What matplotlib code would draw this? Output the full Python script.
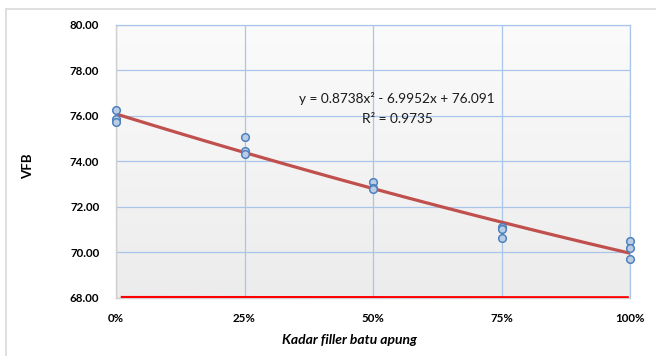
import numpy as np
import matplotlib.pyplot as plt
from matplotlib.patches import Rectangle

# data
kadar = [0, 0, 0, 0.25, 0.25, 0.25, 0.5, 0.5, 0.5, 0.75, 0.75, 0.75, 1, 1, 1]
vfb = [76.25, 75.85, 75.75, 75.09, 74.45, 74.35, 73.10, 72.85, 72.80,
       71.10, 71.02, 70.62, 70.52, 70.20, 69.70]

# trendline coefficients (from the equation on the chart)
koef = [0.8738, -6.9952, 76.091]
r2 = 0.9735

# red baseline series near the bottom
batas_x = [0.012, 0.995]
batas_y = [68.03, 68.02]

x_ticks = [0, 0.25, 0.5, 0.75, 1]
x_labels = ['0%', '25%', '50%', '75%', '100%']
y_ticks = [68, 70, 72, 74, 76, 78, 80]

plt.rcParams['font.family'] = ['Lato', 'DejaVu Sans']

fig = plt.figure(figsize=(6.56, 3.56), dpi=100)
fig.patches.append(Rectangle((6 / 656, -0.1), 1.2, 1 - 9 / 356 + 0.1,
                             transform=fig.transFigure, fill=False,
                             edgecolor='#d9d9d9', linewidth=1.2))

ax = fig.add_axes([116 / 656, 1 - 298 / 356, 514 / 656, 273 / 356])

# light gray gradient background
grad = np.linspace(0, 1, 100).reshape(-1, 1)
ax.imshow(grad, extent=[0, 1, 0, 1], transform=ax.transAxes, aspect='auto',
          cmap=plt.matplotlib.colors.LinearSegmentedColormap.from_list('g', ['#fbfbfb', '#ececec']),
          origin='upper', zorder=0)

ax.set_xlim(0, 1)
ax.set_ylim(68, 80)
ax.set_xticks(x_ticks)
ax.set_xticklabels(x_labels)
ax.set_yticks(y_ticks)
ax.set_yticklabels(['%.2f' % v for v in y_ticks])
ax.grid(True, color='#a9c5e9', linewidth=0.9, zorder=1)
ax.tick_params(length=0, labelsize=8.3)
for lab in ax.get_xticklabels() + ax.get_yticklabels():
    lab.set_fontweight('bold')
ax.tick_params(axis='y', pad=12)
ax.tick_params(axis='x', pad=11)

for s in ['top', 'right']:
    ax.spines[s].set_color('#a9c5e9')
    ax.spines[s].set_linewidth(0.9)
for s in ['left', 'bottom']:
    ax.spines[s].set_color('#d0d0d0')
    ax.spines[s].set_linewidth(1.0)

xx = np.linspace(0, 1, 100)
ax.plot(xx, np.polyval(koef, xx), color='#c0504d', linewidth=2.3, zorder=3)
ax.plot(batas_x, batas_y, color='#ff0000', linewidth=2.0, zorder=3)
ax.plot(kadar, vfb, 'o', markersize=5.5, markerfacecolor='#b9cde5',
        markeredgecolor='#4f81bd', markeredgewidth=1.1, zorder=4, clip_on=False)

ax.text(0.547, 76.75, 'y = 0.8738x² - 6.9952x + 76.091', ha='center', va='center',
        fontsize=9.8, color='#1a1a1a', zorder=5)
ax.text(0.547, 75.88, 'R² = %.4f' % r2, ha='center', va='center',
        fontsize=9.8, color='#1a1a1a', zorder=5)

fig.text(28 / 656, 1 - 166 / 356, 'VFB', rotation=90, ha='center', va='center',
         fontsize=9.5, fontweight='bold')
fig.text(350 / 656, 1 - 340 / 356, 'Kadar filler batu apung', ha='center', va='center',
         fontsize=10, fontweight='bold', fontstyle='italic')

plt.savefig('out.png', dpi=100)
